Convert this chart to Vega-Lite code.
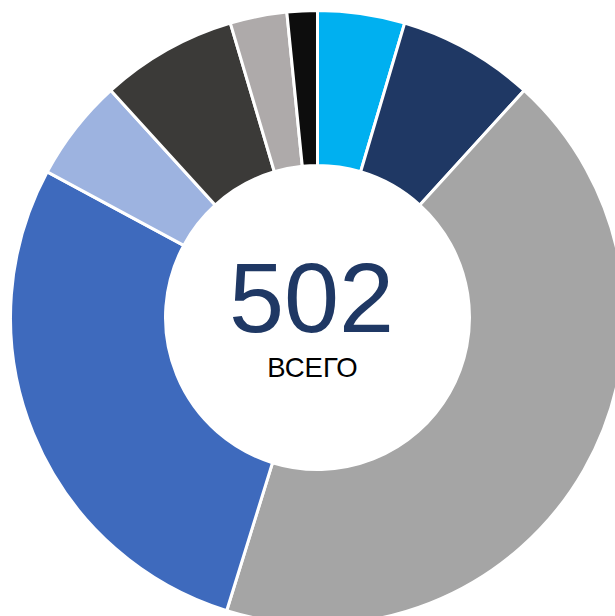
{
  "$schema": "https://vega.github.io/schema/vega-lite/v6.json",
  "width": 635,
  "height": 635,
  "padding": 0,
  "autosize": "none",
  "background": "white",
  "view": {"stroke": null},
  "datasets": {
    "segments": [
      {"cat": "A", "order": 1, "value": 23},
      {"cat": "B", "order": 2, "value": 36},
      {"cat": "C", "order": 3, "value": 216},
      {"cat": "D", "order": 4, "value": 141},
      {"cat": "E", "order": 5, "value": 27},
      {"cat": "F", "order": 6, "value": 36},
      {"cat": "G", "order": 7, "value": 15},
      {"cat": "H", "order": 8, "value": 8}
    ],
    "center": [
      {"total": "502", "label": "ВСЕГО"}
    ]
  },
  "layer": [
    {
      "data": {"name": "segments"},
      "mark": {"type": "arc", "outerRadius": 307, "innerRadius": 152, "stroke": "white", "strokeWidth": 3},
      "encoding": {
        "theta": {"field": "value", "type": "quantitative", "stack": true},
        "order": {"field": "order", "type": "quantitative"},
        "color": {
          "field": "cat",
          "type": "nominal",
          "legend": null,
          "scale": {
            "domain": ["A", "B", "C", "D", "E", "F", "G", "H"],
            "range": ["#00B0F0", "#1F3864", "#A5A5A5", "#3E6ABD", "#9DB3E0", "#3B3A38", "#AEAAAA", "#0D0D0D"]
          }
        }
      }
    },
    {
      "data": {"name": "center"},
      "mark": {"type": "text", "font": "Liberation Sans", "fontSize": 99, "color": "#1F3864", "align": "center", "baseline": "alphabetic", "dx": -6, "dy": 14},
      "encoding": {"text": {"field": "total", "type": "nominal"}}
    },
    {
      "data": {"name": "center"},
      "mark": {"type": "text", "font": "Liberation Sans", "fontSize": 27.5, "color": "#000000", "align": "center", "baseline": "alphabetic", "dx": -5, "dy": 59},
      "encoding": {"text": {"field": "label", "type": "nominal"}}
    }
  ]
}
